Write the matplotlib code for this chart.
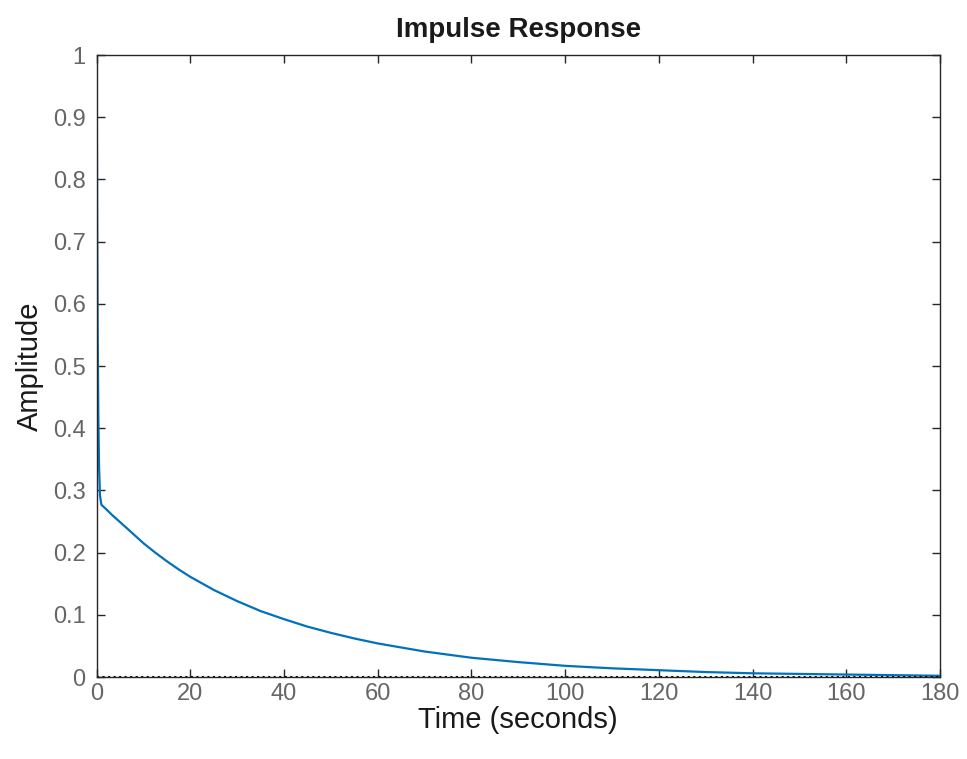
import matplotlib
matplotlib.use("Agg")
import matplotlib.pyplot as plt

# impulse response
time_s = [0, 0.1, 0.2, 0.35, 0.5, 0.7, 1.0, 2, 3.5, 5, 7.5, 10, 12.5, 15, 17.5, 20,
          25, 30, 35, 40, 45, 50, 55, 60, 70, 80, 90, 100, 110, 120, 130, 140,
          150, 160, 170, 180]
amplitude = [1.0, 0.74, 0.56, 0.42, 0.34, 0.292, 0.277, 0.270, 0.259, 0.249, 0.232,
             0.215, 0.200, 0.186, 0.173, 0.161, 0.140, 0.122, 0.106, 0.093, 0.081,
             0.071, 0.062, 0.054, 0.041, 0.031, 0.024, 0.018, 0.014, 0.011, 0.008,
             0.006, 0.005, 0.004, 0.003, 0.002]
x_ticks = [0, 20, 40, 60, 80, 100, 120, 140, 160, 180]
y_ticks = [0, 0.1, 0.2, 0.3, 0.4, 0.5, 0.6, 0.7, 0.8, 0.9, 1]
y_labels = ["0", "0.1", "0.2", "0.3", "0.4", "0.5", "0.6", "0.7", "0.8", "0.9", "1"]

plt.rcParams["font.family"] = ["Liberation Sans", "DejaVu Sans"]

fig = plt.figure(figsize=(9.67, 7.59), dpi=100)
ax = fig.add_axes([0.100, 0.108, 0.872, 0.8195])

ax.plot(time_s, amplitude, color="#0072BD", lw=1.6)
# zero reference line
ax.plot([0, 180], [0, 0], color="black", ls=":", lw=1.5)

ax.set_xlim(0, 180)
ax.set_ylim(0, 1)
ax.set_xticks(x_ticks)
ax.set_yticks(y_ticks)
ax.set_yticklabels(y_labels)

for side in ax.spines.values():
    side.set_color("#262626")
    side.set_linewidth(1.0)
ax.tick_params(direction="in", length=6, width=1.0, top=True, right=True,
               colors="#262626", labelcolor="#666666", labelsize=17)
ax.tick_params(axis="x", pad=4)
ax.tick_params(axis="y", pad=8)

ax.set_xlabel("Time (seconds)", fontsize=21, color="#1a1a1a", labelpad=1)
ax.set_ylabel("Amplitude", fontsize=21, color="#1a1a1a", labelpad=6)
ax.set_title("Impulse Response", fontsize=20, fontweight="bold", color="#1a1a1a", pad=13)

fig.savefig("out.png", dpi=100, facecolor="white")
